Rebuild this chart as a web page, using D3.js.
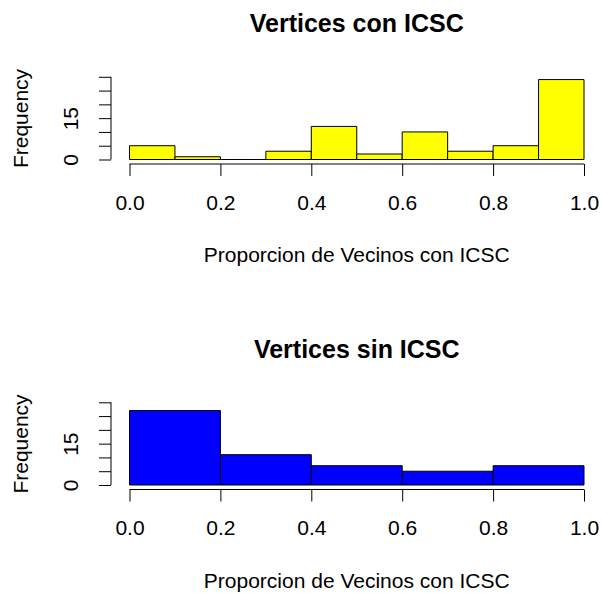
<!DOCTYPE html>
<html>
<head>
<meta charset="utf-8">
<script src="https://cdn.jsdelivr.net/npm/d3@7"></script>
<style>
  html, body { margin: 0; padding: 0; background: #fff; }
  svg { display: block; }
  text { font-family: "Liberation Sans", Arial, Helvetica, sans-serif; fill: #000; }
</style>
</head>
<body>
<script>
// Histogram counts for each group, with their bin breaks
const breaksCon = [0, 0.1, 0.2, 0.3, 0.4, 0.5, 0.6, 0.7, 0.8, 0.9, 1.0];
const countsCon = [5, 1, 0, 3, 12, 2, 10, 3, 5, 29];
const breaksSin = [0, 0.2, 0.4, 0.6, 0.8, 1.0];
const countsSin = [27, 11, 7, 5, 7];

// Axis ticks and the labels that get printed
const xTicks = [0, 0.2, 0.4, 0.6, 0.8, 1.0];
const yTicks = [0, 5, 10, 15, 20, 25, 30];
const yTickLabels = [0, 15];

const titles = ["Vertices con ICSC", "Vertices sin ICSC"];
const xLabel = "Proporcion de Vecinos con ICSC";
const yLabel = "Frequency";
const fills = ["#ffff00", "#0000ff"];

const W = 602, H = 593;
const svg = d3.select("body").append("svg").attr("width", W).attr("height", H);

const x = d3.scaleLinear().domain([0, 1]).range([129.5, 584]);

const panels = [
  { breaks: breaksCon, counts: countsCon, y0: 159.5, top: 0 },
  { breaks: breaksSin, counts: countsSin, y0: 485, top: 325.5 }
];

panels.forEach((p, i) => {
  const g = svg.append("g");
  const y = d3.scaleLinear().domain([0, 30]).range([p.y0, p.y0 - 82.7]);

  const bins = p.counts.map((c, k) => ({ x0: p.breaks[k], x1: p.breaks[k + 1], n: c }));

  // bars as closed paths so that empty bins still show their outline
  g.selectAll("path.bar").data(bins).join("path")
    .attr("class", "bar")
    .attr("d", d => `M${x(d.x0)},${y(0)}H${x(d.x1)}V${y(d.n)}H${x(d.x0)}Z`)
    .attr("fill", fills[i])
    .attr("stroke", "#000")
    .attr("stroke-width", 1);

  // x axis (line spans the tick range only)
  const xAxisY = p.y0 + 4.5;
  const xa = g.append("g").attr("transform", `translate(0,${xAxisY})`)
    .call(d3.axisBottom(x).tickValues(xTicks).tickFormat(d3.format(".1f"))
      .tickSize(12).tickSizeOuter(0).tickPadding(19));
  xa.select(".domain").attr("d", `M${x(0)},0H${x(1)}`).attr("stroke", "#000");
  xa.selectAll(".tick line").attr("stroke", "#000");
  xa.selectAll(".tick text").attr("font-size", 21).attr("fill", "#000")
    .attr("font-family", "Liberation Sans, Arial, sans-serif");

  // y axis with vertical labels
  const ya = g.append("g").attr("transform", "translate(111,0)")
    .call(d3.axisLeft(y).tickValues(yTicks).tickSize(12).tickSizeOuter(0)
      .tickFormat(d => yTickLabels.includes(d) ? d : ""));
  ya.select(".domain").attr("d", `M0,${y(0)}V${y(30)}`).attr("stroke", "#000");
  ya.selectAll(".tick line").attr("stroke", "#000");
  ya.selectAll(".tick text")
    .attr("font-size", 21).attr("fill", "#000")
    .attr("font-family", "Liberation Sans, Arial, sans-serif")
    .attr("x", null).attr("dy", null)
    .attr("text-anchor", "middle")
    .attr("transform", "translate(-33,0) rotate(-90)");

  // titles and axis names
  g.append("text")
    .attr("x", (x(0) + x(1)) / 2).attr("y", p.top + 32)
    .attr("text-anchor", "middle").attr("font-size", 25).attr("font-weight", "bold")
    .text(titles[i]);
  g.append("text")
    .attr("x", (x(0) + x(1)) / 2).attr("y", p.top + 262)
    .attr("text-anchor", "middle").attr("font-size", 21)
    .text(xLabel);
  g.append("text")
    .attr("transform", `translate(28,${p.y0 - 41}) rotate(-90)`)
    .attr("text-anchor", "middle").attr("font-size", 21)
    .text(yLabel);
});
</script>
</body>
</html>
